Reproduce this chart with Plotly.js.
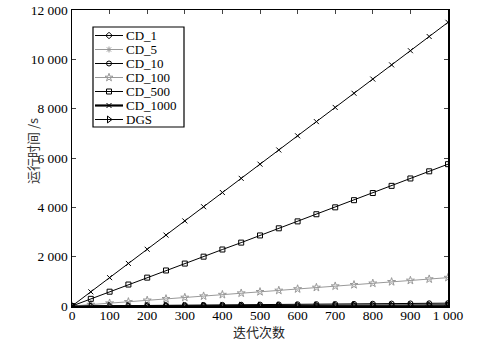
<!DOCTYPE html>
<html><head><meta charset="utf-8">
<script src="https://cdn.plot.ly/plotly-3.0.1.min.js"></script>
<style>html,body{margin:0;padding:0;background:#fff}#chart{width:503px;height:340px}</style>
</head><body><div id="chart"></div>
<script>
const iterations = [0,50,100,150,200,250,300,350,400,450,500,550,600,650,700,750,800,850,900,950,1000];
const cd1    = [0,0.6,1.2,1.7,2.3,2.9,3.5,4.0,4.6,5.2,5.8,6.3,6.9,7.5,8.1,8.6,9.2,9.8,10.4,10.9,11.5];
const cd5    = [0,3,6,9,12,14,17,20,23,26,29,32,35,37,40,43,46,49,52,55,58];
const cd10   = [0,6,12,17,23,29,35,40,46,52,58,63,69,75,81,86,92,98,104,109,115];
const cd100  = [0,58,115,170,230,290,345,400,460,520,575,630,690,750,805,860,920,980,1035,1090,1150];
const cd500  = [0,290,580,870,1150,1440,1720,2000,2290,2570,2860,3150,3430,3720,4000,4290,4580,4870,5170,5460,5750];
const cd1000 = [0,575,1150,1725,2300,2875,3450,4025,4600,5175,5750,6325,6900,7475,8050,8625,9200,9775,10350,10925,11500];
const dgs    = [0,2,4,6,8,10,12,14,16,18,20,22,24,26,28,30,32,34,36,38,40];
const seriesNames = ['CD_1','CD_5','CD_10','CD_100','CD_500','CD_1000','DGS'];
const xTickVals = [0,100,200,300,400,500,600,700,800,900,1000];
const xTickText = ['0','100','200','300','400','500','600','700','800','900','1 000'];
const yTickVals = [0,2000,4000,6000,8000,10000,12000];
const yTickText = ['0','2 000','4 000','6 000','8 000','10 000','12 000'];
const xTitle = '迭代次数';
const yTitle = '运行时间 /s';

const W = 503, H = 340, ML = 72, MR = 55, MT = 10, MB = 34;
const PW = W - ML - MR, PH = H - MT - MB;
const px2x = p => (p - ML) / PW;
const py2y = p => (H - MB - p) / PH;

const data = [cd1,cd5,cd10,cd100,cd500,cd1000,dgs];
const styles = [
  {c:'#000', s:'diamond-open', sz:5, lw:1},
  {c:'#999', s:'asterisk-open', sz:5, lw:1},
  {c:'#000', s:'circle-open', sz:5, lw:1},
  {c:'#999', s:'star-open', sz:6, lw:1},
  {c:'#000', s:'square-open', sz:5, lw:1},
  {c:'#000', s:'x-thin-open', sz:5, lw:1},
  {c:'#000', s:'triangle-right-open', sz:6, lw:1}
];
const traces = data.map((y,i)=>({
  x: iterations, y: y, name: seriesNames[i], type:'scatter', mode:'lines+markers',
  showlegend:false, hoverinfo:'skip',
  line:{color:styles[i].c, width:styles[i].lw},
  marker:{symbol:styles[i].s, size:styles[i].sz, color:styles[i].c, line:{color:styles[i].c, width:1}}
}));

// custom compact legend (matches the reference spacing)
const legTop = 27, legBottom = 127, legLeft = 93, legRight = 184;
const itemY0 = 35.5, itemDy = 14;
const sampleX0 = 95, sampleX1 = 123, textX = 125;
const annotations = [];
seriesNames.forEach((n,i)=>{
  const yy = py2y(itemY0 + i*itemDy);
  traces.push({
    x:[px2x(sampleX0), px2x(sampleX1)], y:[yy,yy],
    xaxis:'x2', yaxis:'y2', type:'scatter', mode:'lines', showlegend:false, hoverinfo:'skip',
    line:{color:styles[i].c, width: n==='CD_1000' ? 2.2 : 1}
  });
  traces.push({
    x:[px2x((sampleX0+sampleX1)/2)], y:[yy],
    xaxis:'x2', yaxis:'y2', type:'scatter', mode:'markers', showlegend:false, hoverinfo:'skip',
    marker:{symbol:styles[i].s, size:styles[i].sz, color:styles[i].c, line:{color:styles[i].c, width:1}}
  });
  annotations.push({xref:'paper', yref:'paper', x:px2x(textX), y:yy, xanchor:'left', yanchor:'middle',
    text:n, showarrow:false, borderpad:0, font:{family:'"Liberation Serif", serif', size:13, color:'#000'}});
});
annotations.push({xref:'paper', yref:'paper', x:px2x(32), y:py2y(151), xanchor:'center', yanchor:'middle',
  textangle:-90, text:yTitle, showarrow:false, borderpad:0, font:{family:'"Noto Sans CJK SC", serif', size:13, color:'#333'}});
annotations.push({xref:'paper', yref:'paper', x:px2x(259), y:py2y(331), xanchor:'center', yanchor:'middle',
  text:xTitle, showarrow:false, borderpad:0, font:{family:'"Noto Sans CJK SC", serif', size:13, color:'#222'}});

const layout = {
  width:W, height:H,
  margin:{l:ML, r:MR, t:MT, b:MB},
  paper_bgcolor:'#fff', plot_bgcolor:'#fff',
  font:{family:'"Liberation Serif", "Noto Sans CJK SC", serif', size:14, color:'#000'},
  showlegend:false,
  xaxis:{range:[0,1000], tickvals:xTickVals, ticktext:xTickText, ticks:'inside', ticklen:4,
         showline:true, linecolor:'#000', linewidth:1.5, mirror:'allticks', showgrid:false, zeroline:false,
         tickfont:{size:13.5}, ticklabelstandoff:-4},
  yaxis:{range:[0,12000], tickvals:yTickVals, ticktext:yTickText, ticks:'inside', ticklen:4,
         showline:true, linecolor:'#000', linewidth:1.5, mirror:'allticks', showgrid:false, zeroline:false,
         tickfont:{size:13.5}},
  xaxis2:{overlaying:'x', range:[0,1], visible:false, fixedrange:true},
  yaxis2:{overlaying:'y', range:[0,1], visible:false, fixedrange:true},
  shapes:[{type:'rect', xref:'paper', yref:'paper', x0:px2x(legLeft), x1:px2x(legRight), y0:py2y(legBottom), y1:py2y(legTop),
           line:{color:'#000', width:1.2}, fillcolor:'rgba(0,0,0,0)', layer:'above'}],
  annotations: annotations
};
Plotly.newPlot('chart', traces, layout, {displayModeBar:false, staticPlot:true});
</script></body></html>
